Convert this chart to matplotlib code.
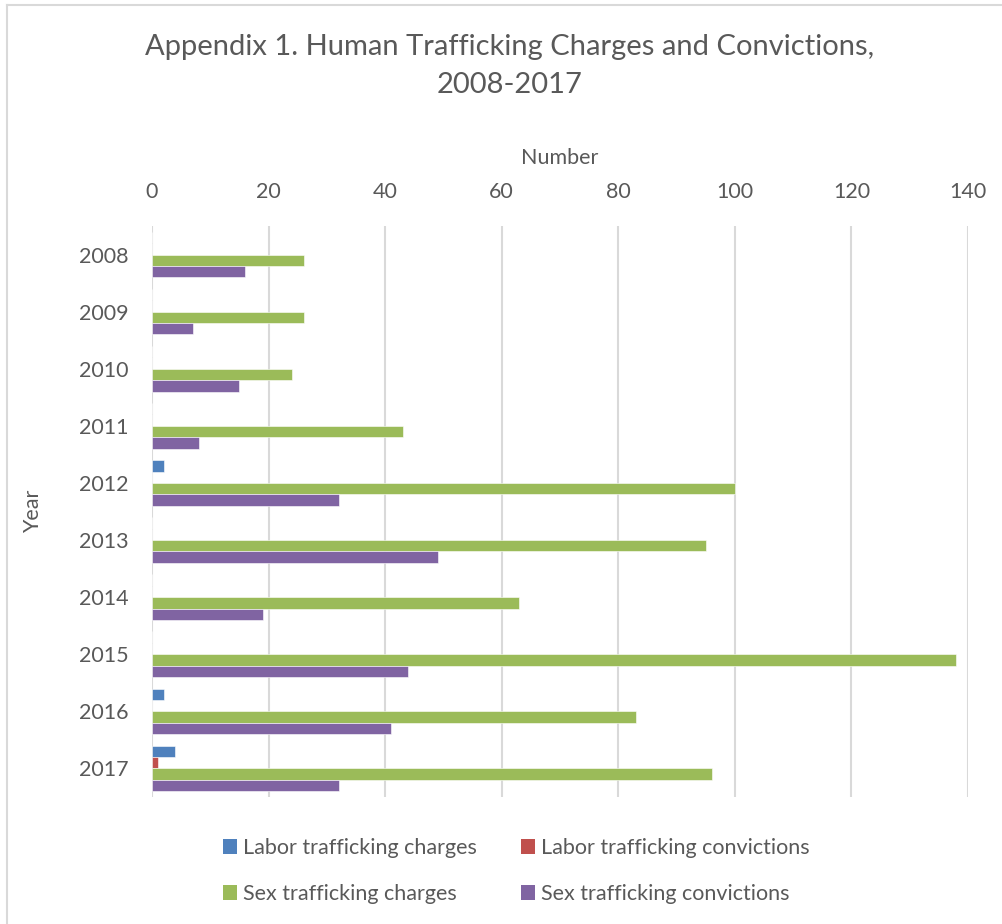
import matplotlib
matplotlib.use("Agg")
import matplotlib.pyplot as plt
import numpy as np
from matplotlib.patches import Patch
from matplotlib.lines import Line2D

years = ["2008", "2009", "2010", "2011", "2012", "2013", "2014", "2015", "2016", "2017"]
labor_charges = [0, 0, 0, 0, 2, 0, 0, 0, 2, 4]
labor_convictions = [0, 0, 0, 0, 0, 0, 0, 0, 0, 1]
sex_charges = [26, 26, 24, 43, 100, 95, 63, 138, 83, 96]
sex_convictions = [16, 7, 15, 8, 32, 49, 19, 44, 41, 32]

series_names = ["Labor trafficking charges", "Labor trafficking convictions",
                "Sex trafficking charges", "Sex trafficking convictions"]
colors = ["#4f81bd", "#c0504d", "#9bbb59", "#8064a2"]
xticks = [0, 20, 40, 60, 80, 100, 120, 140]

txt = "#595959"
FONT = "Lato"
plt.rcParams['font.family'] = [FONT, 'DejaVu Sans']

fig = plt.figure(figsize=(10.03, 9.24), dpi=100)
ax = fig.add_axes([152/1003, 1-797/924, (968-152)/1003, (797-226)/924])

y = np.arange(len(years))
h = 0.2
data = [labor_charges, labor_convictions, sex_charges, sex_convictions]
offsets = [-1.5*h, -0.5*h, 0.5*h, 1.5*h]
for vals, c, off in zip(data, colors, offsets):
    ax.barh(y + off, vals, height=h, color=c, edgecolor='white', linewidth=0.4, zorder=3)

ax.set_xlim(0, 140)
ax.set_ylim(len(years) - 0.5, -0.5)
ax.set_xticks(xticks)
ax.set_xticklabels([str(t) for t in xticks])
ax.set_yticks(y)
ax.set_yticklabels(years)
ax.xaxis.tick_top()
ax.xaxis.set_label_position('top')
ax.tick_params(axis='both', length=0, labelsize=15.5, colors=txt, pad=17)
ax.grid(axis='x', color='#d9d9d9', linewidth=1.5, zorder=0)
for s in ax.spines.values():
    s.set_visible(False)

ax.set_xlabel("Number", fontsize=15.5, color=txt, labelpad=13)
ax.set_ylabel("Year", fontsize=15.5, color=txt, labelpad=26)

fig.text(510/1003, 1-47/924, "Appendix 1. Human Trafficking Charges and Convictions,",
         ha='center', va='center', fontsize=21, color=txt)
fig.text(510/1003, 1-85/924, "2008-2017", ha='center', va='center', fontsize=21, color=txt)

handles = [Patch(facecolor=colors[i], edgecolor='none') for i in range(4)]
order = [0, 2, 1, 3]
leg = fig.legend([handles[i] for i in order], [series_names[i] for i in order],
                 ncol=2, loc='center', bbox_to_anchor=(516/1003, 1-871/924),
                 frameon=False, fontsize=15.5, handlelength=0.65, handleheight=0.65,
                 handletextpad=0.28, columnspacing=2.05, labelspacing=1.2)
for t in leg.get_texts():
    t.set_color(txt)

# chart border (left and top visible)
fig.add_artist(Line2D([7/1003, 7/1003], [0, 1-5/924], transform=fig.transFigure,
                      color='#d9d9d9', linewidth=1.5))
fig.add_artist(Line2D([7/1003, 1], [1-5/924, 1-5/924], transform=fig.transFigure,
                      color='#d9d9d9', linewidth=1.5))

fig.savefig("out.png", dpi=100)
